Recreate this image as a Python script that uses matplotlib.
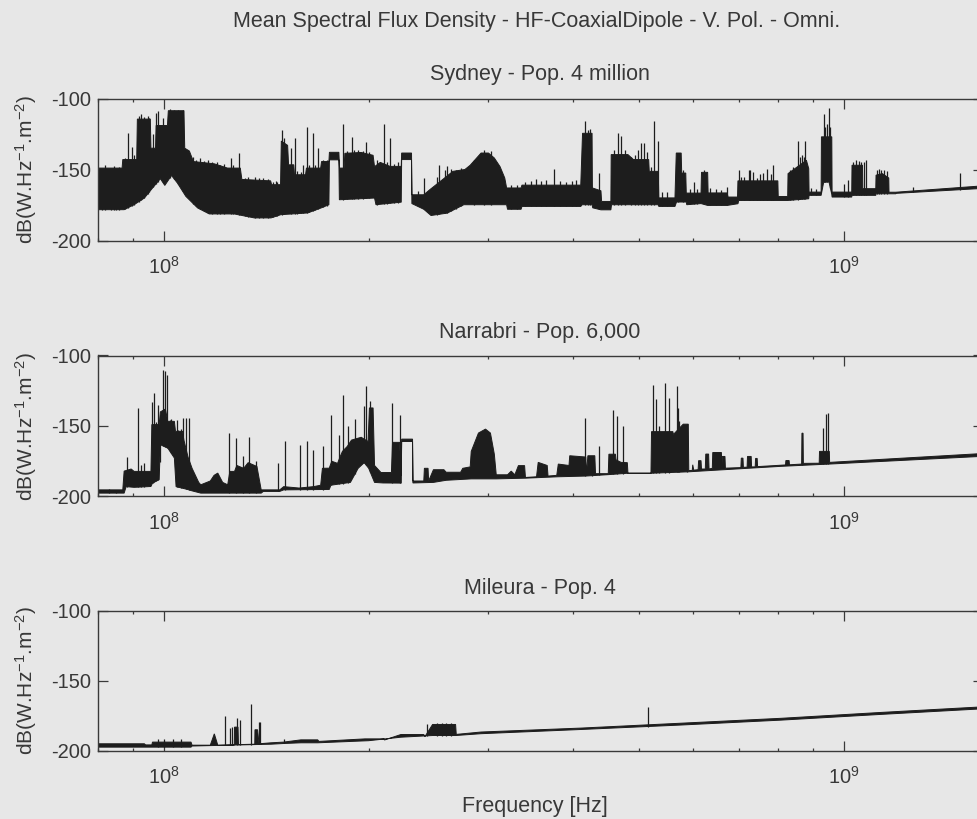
import numpy as np
import matplotlib
matplotlib.use('Agg')
import matplotlib.pyplot as plt
from matplotlib.ticker import LogLocator, NullFormatter, FixedLocator

plt.rcParams['font.family'] = ['Liberation Sans', 'DejaVu Sans']
plt.rcParams['mathtext.fontset'] = 'custom'
plt.rcParams['mathtext.rm'] = 'Liberation Sans'
plt.rcParams['mathtext.it'] = 'Liberation Sans:italic'
plt.rcParams['mathtext.bf'] = 'Liberation Sans:bold'
plt.rcParams['axes.unicode_minus'] = False

# ---------------- data (frequency in MHz, level in dB(W.Hz^-1.m^-2)) ----------------
title_main = "Mean Spectral Flux Density - HF-CoaxialDipole - V. Pol. - Omni."
panel_titles = ["Sydney - Pop. 4 million", "Narrabri - Pop. 6,000", "Mileura - Pop. 4"]
x_label = "Frequency [Hz]"
y_label = "dB(W.Hz$^{-1}$.m$^{-2}$)"
y_ticks = [-200, -150, -100]

# Sydney: upper edge of the dense band
syd_top_f = [80, 86.8, 87.0, 91.2, 91.4, 95.5, 95.7, 97.2, 97.4, 101.2, 101.5, 107.0, 107.3, 109.0, 110.5,
             118.6, 124, 129.5, 130.2, 143.5, 144, 148.4, 148.8, 152, 152.5, 155.2, 155.6, 161.5, 162, 170,
             170.5, 174.8, 175.1, 180.8, 181.2, 184, 184.5, 195, 203, 204, 208, 215, 223.3, 223.6, 231.2,
             231.5, 241, 246, 257, 266, 277, 282, 292.6, 300, 306, 312, 317, 319, 335, 336, 410, 412.5,
             426, 426.5, 439, 440, 454, 454.5, 481, 490, 516, 517, 533, 534, 564, 566.5, 576, 577, 585,
             586, 616, 617, 630, 631, 673, 675, 697, 698, 799, 800, 826, 827, 880, 887, 888, 925, 926,
             959, 960, 1026, 1027, 1064, 1065, 1113, 1114, 1138, 1163, 1164, 1191, 1600]
syd_top_db = [-149, -149, -143, -143, -114.5, -114.5, -135, -135, -119, -119, -108.6, -108.6, -135, -137, -144.4,
              -146, -149, -149, -157, -158, -160.7, -160.7, -130, -133, -146.7, -146.7, -153.7, -153.7, -149, -149,
              -144.4, -144.4, -137.9, -137.9, -149, -149, -138.6, -138, -140, -148, -145, -147.8, -147.8, -138.4, -138.4,
              -167.8, -167.8, -164.2, -157, -151.3, -150, -147, -138.4, -138.4, -141.9, -148, -156, -163, -163, -161, -161, -124.5,
              -124.5, -163, -165, -172.5, -172.5, -139.5, -139.5, -143, -143, -151.3, -151.3, -170, -170, -138.4, -138.4, -152.5, -152.5,
              -166.6, -166.6, -152, -152, -166.5, -166.5, -169.4, -169.4, -158, -158, -169, -169, -152.9, -143.5, -149.4, -165.9, -165.9, -127,
              -127, -165.9, -165.9, -147, -147, -163.5, -163.5, -154, -152.9, -156, -166, -166, -161.5]
# Sydney: lower edge of the dense band
syd_bot_f = [80, 87.4, 90.4, 93.6, 96.2, 98.8, 100.3, 102.6, 104.7, 107.7, 112.1, 116.6, 126.9, 135.8, 143.7,
             148.6, 162.7, 170.2, 174.8, 175.1, 180.8, 181.1, 204, 205, 223.3, 223.6, 231.2, 231.5, 241, 247,
             261, 276, 319, 320, 335, 336, 410, 412, 426, 427, 439, 454, 455, 533, 534, 564, 567, 586, 587,
             616, 630, 673, 698, 700, 826, 887, 888, 925, 933, 950, 959, 960, 1026, 1027, 1113, 1114, 1191,
             1192, 1600]
syd_bot_db = [-178.3, -178.3, -174.8, -170.1, -163.1, -156.5, -161.2, -154.2, -159.6, -168.9, -177.1, -181.3, -181.3, -184.1, -184.1,
              -181.8, -180.6, -177.1, -174.8, -143.2, -143.2, -171.3, -170.1, -174.8, -173, -143, -143, -174, -178, -182.4,
              -180.7, -174.8, -174.8, -178, -178, -176, -176, -174.8, -174.8, -177, -178.4, -178.4, -174.8, -174.8, -176, -176, -172.9, -172.9, -174.8,
              -174, -175.3, -175.3, -174.1, -171.8, -171.8, -170.6, -168.2, -168.2, -159, -158.8, -167.5, -169.4, -169.4, -168.2, -168.2, -167.1, -167.1,
              -166.8, -163.3]
# Sydney: narrow spikes (frequency, peak level)
syd_spike_f = [81, 82.0, 83.5, 84.5, 85, 86.0, 87.8, 88.6, 89.9, 90.5, 91.8, 92.6, 93.5, 94.6, 95.2, 96.5, 97.3,
               97.9, 99.6, 102, 103.5, 105, 106.5, 110.5, 111.5, 113, 114.5, 116, 117.5, 119.5, 121, 122.5,
               125.4, 126.5, 129.0, 131.5, 133, 136, 138, 140, 142, 144.5, 146.2, 146.5, 149.1, 150, 153.7,
               155.8, 157, 159, 160, 162.4, 163.5, 165.5, 167, 168.3, 171.5, 173.5, 183.2, 186, 188.7, 190,
               193, 196, 198.2, 200.5, 206, 210.5, 212.5, 215, 218, 220.5, 236, 241, 252, 254, 259, 261, 264,
               269, 273, 286, 295, 303, 324, 330, 340, 346, 352.6, 358, 364, 375, 382, 390, 398, 404, 416.5,
               420, 423, 436.7, 459, 464.7, 470, 476, 486, 493, 497.6, 503, 508.6, 513, 520, 526, 532, 540,
               549, 570, 580, 594, 602.5, 608, 622, 635, 648, 660, 673, 700, 705, 712, 723.5, 728, 735, 745,
               752, 760, 771, 780, 787, 832, 842, 855, 860, 867, 872, 877, 893, 910, 933, 938, 944, 949, 954,
               1001, 1013, 1030, 1041, 1050, 1058, 1070, 1077, 1118, 1126, 1134, 1146, 1155, 1264, 1478]
syd_spike_db = [-150, -147, -151, -147.5, -149.5, -148, -142, -124.5, -133.9, -140, -112, -111, -113, -112.5, -114, -125, -110.5,
                -108.9, -114, -107.5, -108, -107.8, -108, -141, -143, -142, -144, -143.5, -145, -145, -147, -146,
                -142, -147, -138.6, -156, -155.5, -155, -156, -156, -157, -159, -158.4, -159, -122.2, -128, -135,
                -128, -151, -152, -146.7, -119.9, -147, -124.5, -147, -135, -143, -143, -118.2, -137, -126.9, -136.5,
                -136, -137, -130.4, -138, -143, -118, -145, -128, -146, -145, -165, -156, -155, -146.6, -150, -147.8, -149.5,
                -150, -149, -143, -136.5, -137, -161, -161, -159, -158, -157, -158, -157.5, -149.4, -158, -158.5, -158, -157.5, -116,
                -122, -121.5, -152.5, -136, -124.2, -126.5, -136, -141, -140, -136, -131.3, -131.3, -138, -148, -116, -129.9, -166,
                -166, -138.4, -150, -164, -158.8, -164, -150.6, -163, -164, -164.5, -162.4, -150, -155, -155, -150.6, -150.6, -152, -156,
                -153, -152.5, -149.4, -153, -147, -150, -148, -129.9, -141, -140, -141, -129.9, -163, -164, -110.6, -120, -118, -107, -120,
                -160, -157.6, -145, -143.5, -144, -145, -145, -143.5, -150, -149.5, -150, -150, -151, -162.4, -152.5]

# Narrabri
narr_top_f = [80, 87.0, 87.4, 89.5, 90.4, 95.7, 96.0, 98.4, 98.8, 100.5, 101.3, 103.6, 104, 106.5, 107, 108.5,
              110, 112.5, 113.3, 117, 118.5, 120, 122, 124.1, 125, 127, 128, 131, 133, 137, 139, 148, 150,
              158, 166, 170, 171, 175, 176.5, 180, 181.5, 183, 186, 188.7, 195, 199.6, 200.5, 203, 204, 208.5,
              216, 216.8, 222, 223.3, 223.6, 232, 232.3, 241, 241.5, 244.5, 245, 249, 258, 260, 273, 275, 282,
              283, 290, 297, 302, 306, 308, 320, 324, 328, 332, 339, 340, 353, 355, 366, 367, 378, 380, 394,
              395, 417, 418, 420, 430, 431, 450, 451, 461, 462, 470, 480, 481, 520, 521, 560, 561, 580, 590,
              591, 598, 599, 601, 610, 611, 616, 617, 625, 626, 632, 633, 640, 641, 660, 661, 662, 668, 669,
              705, 706, 710, 711, 720, 721, 730, 731, 740, 741, 745, 746, 808, 820, 821, 830, 831, 866, 867,
              870, 871, 919, 920, 951, 952, 1600]
narr_top_db = [-195.3, -195.3, -182, -180.5, -182.2, -182.2, -149, -149, -140, -138, -146.7, -146.7, -153.8, -153.8, -160, -172,
               -180, -190, -191.7, -189, -185, -183.4, -190, -191.7, -182.2, -182.2, -178, -180, -176, -178.7, -195.3, -195.3, -193,
               -194, -193, -192, -180, -179.9, -175, -176.5, -172, -168, -164.5, -160, -158, -161, -137.2, -137.2, -178, -183,
               -183, -161.6, -161.6, -185, -159.3, -159.3, -189, -189, -180, -180, -189, -181, -181, -182.8, -182.8, -180, -179,
               -168, -155, -152.2, -155, -170, -184.6, -184.6, -182, -184.6, -178.1, -178.1, -186.5, -186, -175.8, -178, -185.5, -185, -177, -178,
               -171.1, -172, -184, -171.1, -171.1, -183.8, -183.8, -170, -170, -174, -175.8, -176, -183.5, -183.5, -154, -154, -156, -148.7, -148.7,
               -181.6, -181.5, -177.5, -181.3, -181, -174.6, -174.6, -180.5, -180.5, -169.9, -169.9, -180.5, -180, -168.8, -168.8, -179.9, -171.6, -171.6, -179.9,
               -179.5, -172.8, -172.8, -179.3, -179.2, -171.6, -171.6, -179, -179, -173, -173, -178.8, -177.8, -177.6, -174.5, -174.5, -177.5, -177, -155.1,
               -155.1, -176.5, -176.4, -168, -168, -175.8, -169.5]
narr_bot_f = [80, 87.4, 88, 90.4, 95.7, 96.2, 98.4, 98.8, 101.3, 103.6, 104.2, 108.3, 110, 113.3, 139, 140, 148, 150,
              175, 176, 188, 193, 197, 200, 204, 210, 223.3, 223.6, 232, 232.3, 249, 260, 283, 308, 340, 380,
              417, 450, 481, 520, 590, 808, 951, 1600]
narr_bot_db = [-197.6, -197.6, -193, -193.5, -192.9, -190.5, -188, -163.3, -165.6, -172.7, -193, -195, -196, -197.6, -197.6, -196.4, -196.4, -195.3,
               -195, -192, -190, -180, -176, -180, -190, -190.4, -190.5, -161, -161, -190.4, -190, -188.5, -187.5, -187.5, -187, -186,
               -185.5, -184.5, -183.5, -183.5, -182.5, -178.6, -177, -171.5]
narr_spike_f = [83, 85, 88.2, 91.5, 92.5, 93.5, 96.2, 96.5, 96.8, 97.2, 97.9, 98.6, 99.6, 100.2, 101.1, 102, 102.5,
                103, 104.5, 105, 106, 106.5, 107.7, 108.9, 124.8, 127.6, 130.5, 133.5, 136.5, 147, 150.8, 158.7,
                162.4, 165.5, 171.1, 176.2, 181.1, 183.2, 186.5, 191, 196.7, 198.2, 201, 216.5, 222.3, 416.5,
                425.5, 436.7, 458, 463, 472.6, 523.7, 529.5, 534, 545.6, 551.8, 555.5, 567.6, 569.5, 572, 587,
                867, 930, 941, 947]
narr_spike_db = [-195, -195.5, -172.3, -137.2, -178, -176, -133.2, -150, -126.5, -147, -134.8, -144.3, -110, -111.2, -113.5, -146, -145,
                 -147, -145.5, -153, -152, -144.3, -144.5, -144.3, -155, -158.5, -171.6, -158, -175, -176.3, -160.9, -163.3,
                 -160.9, -166.8, -164.4, -142, -156.2, -127.7, -150, -145, -136, -121.8, -132, -134, -142, -144,
                 -171, -164, -138.6, -143, -149.9, -121.2, -130.6, -150, -119.8, -129.9, -162.5, -121.6, -137, -146.4, -148.5,
                 -155.1, -151.5, -141.6, -140.9]

# Mileura
mil_top_f = [80, 93.6, 94, 96, 96.2, 109.6, 110, 117, 118.6, 120, 126.9, 127, 128.5, 128.7, 136, 136.1, 137.3,
             138, 143.7, 150, 159, 168.3, 169, 197.5, 210.7, 211, 223, 241, 242, 248.3, 268.4, 269, 292.6, 410,
             576, 808, 1134, 1600]
mil_top_db = [-195.2, -195.2, -196, -196, -194, -194, -196.2, -196.2, -188.1, -196.2, -196, -183.3, -183.3, -195.8, -195.5, -185.2, -185.2,
              -195.2, -194.5, -194, -192.4, -192.4, -193.5, -191.7, -191.7, -192.5, -188.6, -188.6, -190, -181.4, -181.4, -188.5, -186.8, -184,
              -180.5, -177, -172.8, -168.8]
mil_bot_f = [80, 109.6, 110, 143.7, 150, 159, 168.3, 200, 223, 248.3, 268.4, 292.6, 410, 576, 808, 1134, 1600]
mil_bot_db = [-197.6, -197.6, -196.8, -195.5, -195, -194.5, -194.5, -193, -190.5, -189.3, -189.3, -188, -185, -181.8, -178.3, -174.2, -170.2]
mil_spike_f = [98, 100, 103, 106, 123.1, 125.2, 126.1, 128.2, 129.5, 134.3, 137.9, 138.4, 150.1, 243.4, 252, 256,
               260, 264, 514.4]
mil_spike_db = [-192, -191.7, -192, -191.8, -175, -183.8, -183.5, -176.9, -178, -167.1, -179.4, -179.6, -191.5, -181, -180.5, -180.2,
                -180.4, -180.6, -169]

f_min_mhz, f_max_mhz = 80, 1600

panels = [
    (syd_top_f, syd_top_db, syd_bot_f, syd_bot_db, syd_spike_f, syd_spike_db),
    (narr_top_f, narr_top_db, narr_bot_f, narr_bot_db, narr_spike_f, narr_spike_db),
    (mil_top_f, mil_top_db, mil_bot_f, mil_bot_db, mil_spike_f, mil_spike_db),
]

# ---------------- styling ----------------
W, H = 977, 819
bg = '#e7e7e7'
ink = '#1d1d1d'
txt = '#383838'
frame = '#3a3a3a'

fig = plt.figure(figsize=(W / 100, H / 100), dpi=100, facecolor=bg)

ax_left, ax_right = 98, 983
ax_rows = [(98.5, 240.5), (355.5, 496.5), (610.5, 750.5)]
title_base = [80, 338, 594]

for i, (tf, td, bf, bd, sf, sd) in enumerate(panels):
    top_px, bot_px = ax_rows[i]
    ax = fig.add_axes([ax_left / W, 1 - bot_px / H, (ax_right - ax_left) / W, (bot_px - top_px) / H])
    ax.set_facecolor(bg)
    tf = np.asarray(tf, float); td = np.asarray(td, float)
    bf = np.asarray(bf, float); bd = np.asarray(bd, float)
    sf = np.asarray(sf, float); sd = np.asarray(sd, float)
    xs = np.concatenate([tf, bf[::-1]]) * 1e6
    ys = np.concatenate([td, bd[::-1]])
    ax.fill(xs, ys, facecolor=ink, edgecolor=ink, lw=0.7, zorder=2)
    base = np.interp(np.log10(sf), np.log10(bf), bd)
    ax.vlines(sf * 1e6, base, sd, colors=ink, lw=0.9, zorder=2)

    ax.set_xscale('log')
    ax.set_xlim(f_min_mhz * 1e6, f_max_mhz * 1e6)
    ax.set_ylim(-200, -100)
    ax.yaxis.set_major_locator(FixedLocator(y_ticks))
    ax.xaxis.set_major_locator(LogLocator(base=10))
    ax.xaxis.set_minor_locator(LogLocator(base=10, subs=np.arange(2, 10)))
    ax.xaxis.set_minor_formatter(NullFormatter())
    ax.tick_params(which='both', direction='in', top=True, right=True, colors=frame, labelcolor=txt)
    ax.tick_params(which='major', length=7, width=0.9, labelsize=14.5)
    ax.tick_params(which='minor', length=2.5, width=0.9)
    ax.tick_params(axis='x', which='major', pad=11)
    ax.tick_params(axis='y', which='major', pad=5)
    for s in ax.spines.values():
        s.set_color(frame)
        s.set_linewidth(1.0)
    ax.set_ylabel(y_label, fontsize=15, color=txt)
    ax.yaxis.set_label_coords((39 - ax_left) / (ax_right - ax_left), 0.5)

    fig.text(540 / W, 1 - title_base[i] / H, panel_titles[i], ha='center', va='baseline',
             fontsize=15.5, color=txt)

fig.text(537 / W, 1 - 27 / H, title_main, ha='center', va='baseline', fontsize=15.5, color=txt)
fig.text(535 / W, 1 - 812 / H, x_label, ha='center', va='baseline', fontsize=15.5, color=txt)

fig.savefig('out.png', dpi=100, facecolor=bg)
